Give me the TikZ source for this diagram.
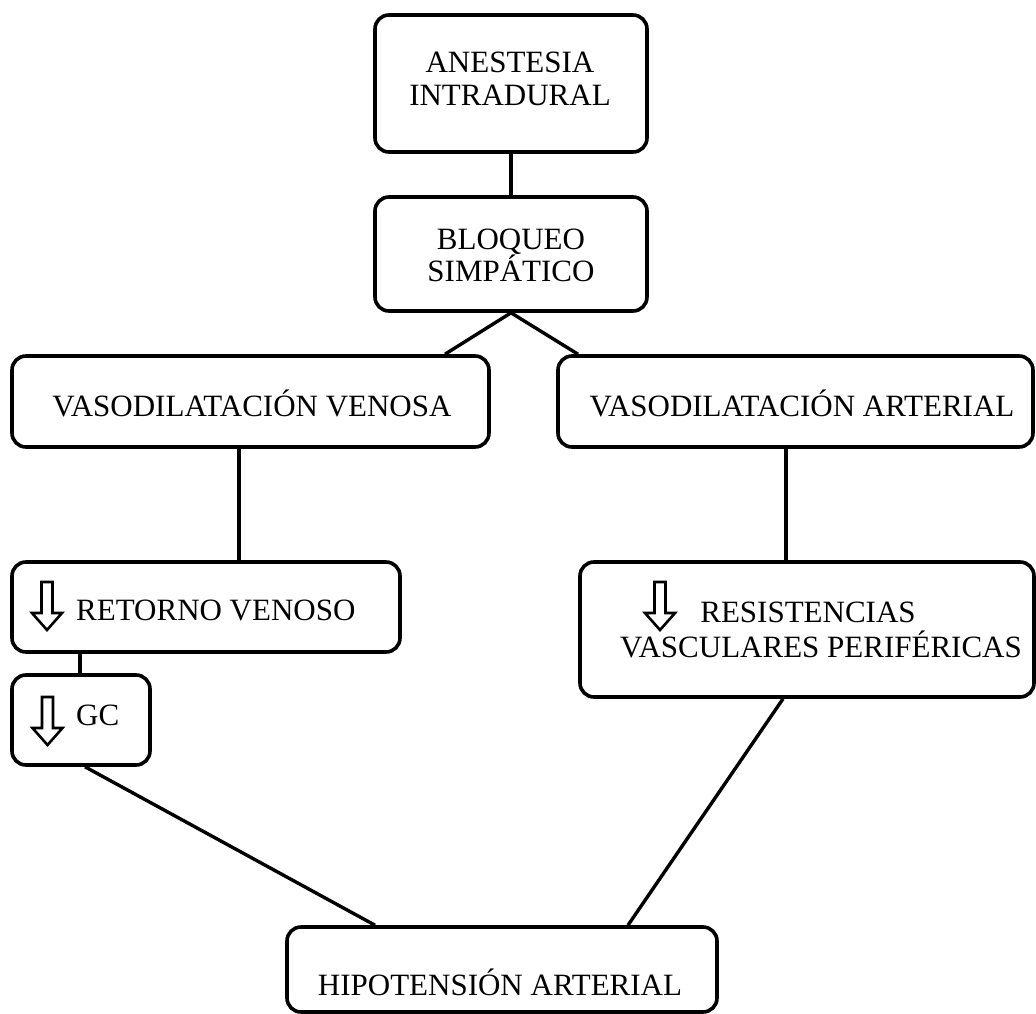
\documentclass[tikz,border=0pt]{standalone}
\usepackage{fontspec}
\setmainfont{Liberation Serif}
\begin{document}
\begin{tikzpicture}[x=1pt,y=-1pt,
  box/.style={draw=black, line width=3.6pt, rounded corners=14pt, fill=white, inner sep=0pt},
  lbl/.style={inner sep=0pt, anchor=base, font=\fontsize{31}{37}\selectfont},
  lbll/.style={inner sep=0pt, anchor=base west, font=\fontsize{31}{37}\selectfont},
  conn/.style={line width=3.4pt, draw=black},
  darr/.pic={\draw[line width=2.6pt, fill=white, line join=miter]
     (-5.5,0) -- (5.5,0) -- (5.5,31) -- (15,31) -- (0,48) -- (-15,31) -- (-5.5,31) -- cycle;}
]
\useasboundingbox (0,0) rectangle (1036,1014);

% boxes
\node[box, minimum width=272pt, minimum height=137pt] (anest) at (511,83.5) {};
\node[box, minimum width=272pt, minimum height=114pt] (bloq) at (511,254) {};
\node[box, minimum width=477pt, minimum height=91pt] (ven) at (250.5,401.5) {};
\node[box, minimum width=475pt, minimum height=91pt] (art) at (795.5,401.5) {};
\node[box, minimum width=388pt, minimum height=90pt] (ret) at (206,607) {};
\node[box, minimum width=454pt, minimum height=135pt] (res) at (807,629.5) {};
\node[box, minimum width=138pt, minimum height=90pt] (gc) at (81,720) {};
\node[box, minimum width=430pt, minimum height=85pt] (hip) at (502,969.5) {};

% connector x positions
\coordinate (c1) at (239,0);
\coordinate (c2) at (786,0);
\coordinate (c3) at (80,0);
\coordinate (c4) at (445,0);
\coordinate (c5) at (578,0);
\coordinate (c6) at (85,0);
\coordinate (c7) at (375,0);
\coordinate (c8) at (783,0);
\coordinate (c9) at (628,0);

% connectors
\draw[conn] (anest.south) -- (bloq.north);
\draw[conn] (bloq.south) -- (ven.north -| c4);
\draw[conn] (bloq.south) -- (art.north -| c5);
\draw[conn] (ven.south -| c1) -- (ret.north -| c1);
\draw[conn] (art.south -| c2) -- (res.north -| c2);
\draw[conn] (ret.south -| c3) -- (gc.north -| c3);
\draw[conn] (gc.south -| c6) -- (hip.north -| c7);
\draw[conn] (res.south -| c8) -- (hip.north -| c9);

% texts
\node[lbl] (t1a) at (510,73) {ANESTESIA};
\node[lbl] (t1b) at (510,106) {INTRADURAL};
\node[lbl] (t2a) at (511,249) {BLOQUEO};
\node[lbl] (t2b) at (511,281) {SIMPÁTICO};
\node[lbl] (t3) at (252,416) {VASODILATACIÓN VENOSA};
\node[lbl] (t4) at (802,416) {VASODILATACIÓN ARTERIAL};
\node[lbll] (t5) at (76,620) {RETORNO VENOSO};
\node[lbll] (t6) at (76,725) {GC};
\node[lbl] (t7a) at (808,622) {RESISTENCIAS};
\node[lbl] (t7b) at (821,657) {VASCULARES PERIFÉRICAS};
\node[lbl] (t8) at (500,995) {HIPOTENSIÓN ARTERIAL};

% hollow down arrows
\pic at (47,582) {darr};
\pic at (47.5,697) {darr};
\pic at (660,582) {darr};
\end{tikzpicture}
\end{document}
